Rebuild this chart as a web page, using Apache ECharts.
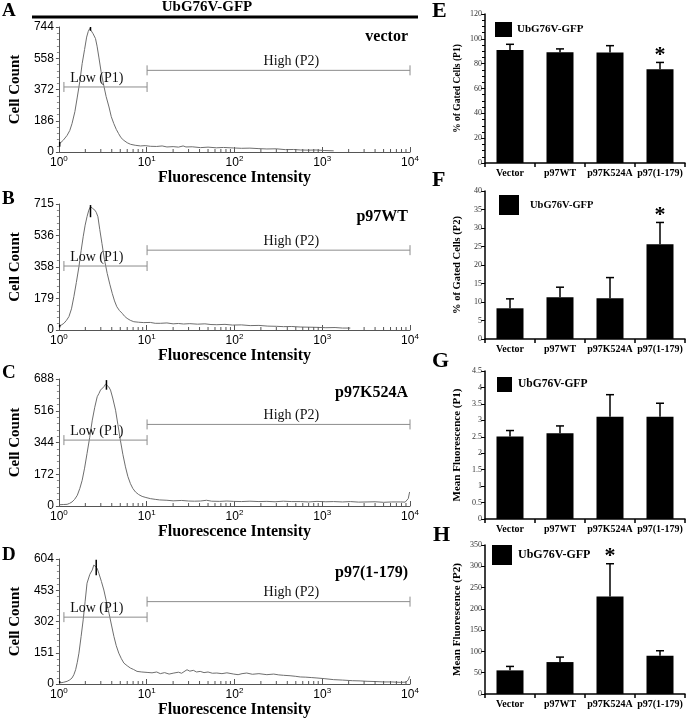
<!DOCTYPE html>
<html><head><meta charset="utf-8">
<script src="https://cdn.jsdelivr.net/npm/echarts@6/dist/echarts.min.js"></script>
<style>html,body{margin:0;padding:0;background:#fff}#c{width:688px;height:720px}</style>
</head><body><div id="c"></div>
<script>
// ---------- DATA ----------
const conditions = ['vector', 'p97WT', 'p97K524A', 'p97(1-179)'];
const histYMax = [744, 715, 688, 604];

// histogram curves: [fluorescence intensity, cell count]
const histVector = [[1.02,50],[1.12,70],[1.24,99],[1.33,128],[1.41,169],[1.52,240],[1.62,327],[1.73,420],[1.84,526],[1.96,610],[2.07,684],[2.16,718],[2.24,734],[2.33,722],[2.45,704],[2.52,712],[2.61,675],[2.72,630],[2.85,565],[3.02,480],[3.24,397],[3.45,330],[3.72,268],[3.95,210],[4.22,169],[4.5,135],[4.79,109],[5.1,85],[5.5,69],[6.0,55],[6.53,46],[7.4,40],[8.5,36],[9.6,38],[11,34],[13,33],[15,36],[17,30],[20,32],[23,29],[26,36],[28,30],[33,31],[41,26],[50,29],[62,25],[75,27],[98,24],[120,22],[150,23],[190,20],[234,18],[300,19],[380,14],[470,15],[562,12],[700,11],[850,12],[1050,9],[1350,7]];
const histWT = [[1.02,23],[1.08,30],[1.14,38],[1.22,55],[1.30,76],[1.39,120],[1.48,189],[1.58,270],[1.69,359],[1.79,450],[1.89,529],[1.99,595],[2.09,643],[2.19,680],[2.29,700],[2.42,690],[2.57,680],[2.66,668],[2.78,643],[2.92,570],[3.09,492],[3.3,400],[3.55,321],[3.8,260],[4.05,208],[4.3,165],[4.57,132],[4.9,110],[5.25,95],[5.6,78],[5.98,66],[6.5,55],[7.13,47],[8.1,44],[9.27,42],[11,43],[12.5,38],[14.3,38],[17,40],[20,35],[23,37],[26.3,34],[31,36],[38,33],[46,35],[54,31],[63,30],[78,32],[95,28],[120,29],[151,25],[190,26],[240,22],[300,21],[363,19],[450,20],[560,17],[700,16],[871,15],[1100,13],[1400,14],[1700,11],[2090,11]];
const histK524A = [[1.02,7],[1.12,8],[1.24,9],[1.32,14],[1.41,22],[1.51,36],[1.62,58],[1.73,95],[1.84,139],[1.96,205],[2.09,284],[2.24,370],[2.40,465],[2.56,535],[2.73,592],[2.86,610],[2.98,628],[3.12,620],[3.25,646],[3.4,660],[3.55,655],[3.7,645],[3.87,628],[4.1,585],[4.42,519],[4.7,440],[5.01,357],[5.35,280],[5.73,212],[6.1,160],[6.53,121],[6.95,95],[7.45,76],[8.1,62],[8.87,52],[9.8,46],[11,40],[12.5,36],[14,33],[17,31],[20,28],[25,30],[30,27],[35,26],[41,27],[48,31],[55,26],[68,25],[82,27],[98,25],[120,24],[150,26],[190,24],[234,25],[290,23],[360,26],[450,24],[562,24],[700,22],[870,25],[1100,23],[1350,24],[1700,22],[2100,24],[2600,21],[3240,22],[4000,23],[5000,20],[6200,22],[7760,22],[8800,21],[9550,40],[9900,76]];
const histP97 = [[1.02,5],[1.12,8],[1.24,13],[1.33,20],[1.41,29],[1.48,45],[1.55,69],[1.62,105],[1.69,149],[1.79,230],[1.89,310],[1.99,400],[2.09,487],[2.25,530],[2.40,551],[2.5,575],[2.61,583],[2.72,560],[2.85,535],[3.05,495],[3.25,454],[3.47,400],[3.72,342],[3.97,285],[4.23,230],[4.5,185],[4.81,149],[5.15,122],[5.5,101],[6.0,88],[6.53,77],[7.1,70],[7.76,61],[8.8,58],[10.1,56],[11.5,54],[13,58],[14.3,50],[16,55],[18,48],[20.4,53],[23,57],[25,52],[28.8,69],[31,62],[34,66],[37,58],[40.7,61],[45,55],[50,58],[56,52],[63,53],[72,50],[82,54],[98,48],[110,45],[122,50],[138,53],[160,47],[190,50],[234,45],[280,48],[320,44],[363,42],[430,40],[500,37],[562,34],[650,33],[760,31],[871,29],[1050,26],[1350,21],[1700,19],[2200,16],[2700,15],[3240,13],[4000,12],[5000,10],[6200,10],[7760,8],[9000,9],[9550,20],[9900,37]];
const histCurves = [histVector, histWT, histK524A, histP97];

// peak cursor marks: [x, yLow, yHigh]
const peakMarks = [[[2.29,722,744],[1.02,32,60]], [[2.29,640,709],[1.02,15,30]], [[3.48,630,682]], [[2.66,525,600],[1.02,5,14]]];

// gates: [xStart, xEnd, y]
const gateLow = [[1.14,10.1,387],[1.14,10.1,363],[1.14,10.1,357],[1.14,10.1,323]];
const gateHigh = [[10.1,10000,486],[10.1,10000,453],[10.1,10000,442],[10.1,10000,398]];
const gateLowLabel = 'Low (P1)';
const gateHighLabel = 'High (P2)';
const gateLowLabelX = 2.7;
const gateHighLabelX = 445;

// bar panels
const categories = ['Vector', 'p97WT', 'p97K524A', 'p97(1-179)'];
const gatedP1 = [91, 89.2, 89, 75.5];
const gatedP1Err = [4.6, 2.7, 5.5, 5.5];
const gatedP2 = [8.3, 11.3, 11.0, 25.6];
const gatedP2Err = [2.55, 2.7, 5.6, 5.9];
const meanP1 = [2.51, 2.61, 3.11, 3.11];
const meanP1Err = [0.18, 0.22, 0.67, 0.41];
const meanP2 = [55.5, 75, 229, 89.8];
const meanP2Err = [9.3, 11.7, 77, 11.8];
const starE = [0, 0, 0, 1];
const starF = [0, 0, 0, 1];
const starG = [0, 0, 0, 0];
const starH = [0, 0, 1, 0];
const barNames = ['% of Gated Cells (P1)', '% of Gated Cells (P2)', 'Mean Fluorescence (P1)', 'Mean Fluorescence (P2)'];
const barYMax = [120, 40, 4.5, 350];
const barYInterval = [20, 5, 0.5, 50];
const legendName = 'UbG76V-GFP';

// ---------- LAYOUT / STYLE ----------
const SERIF = '"Liberation Serif","Times New Roman",serif';
const SANS = '"Liberation Sans",Arial,sans-serif';
const AX = '#555';
const leftGrids = [{top:27,height:125},{top:204,height:126},{top:379,height:127},{top:559,height:125}];
const rightGrids = [{top:14,height:149},{top:191,height:148},{top:371,height:148},{top:545,height:149}];
const letters = [['A',2,11,19],['B',2,199,19],['C',2,373,19],['D',2,555,19],['E',432,11,22],['F',432,180,22],['G',432,361,22],['H',433,535,22]];
const condLabelY = [37, 217, 393, 573];
const legendPos = [[495,22,17,15,11,0],[499,195,20,20,10.5,6],[497,377,15,15,11.5,1],[492,545,20,20,12,1]];
const barNameSize = [9.5, 10.5, 11, 11];

const xMinor = [];
for (let d = 1; d <= 1000; d *= 10) for (let m = 2; m <= 9; m++) xMinor.push([m * d, 0]);

const chart = echarts.init(document.getElementById('c'), null, {renderer:'canvas'});

const grid = [], xAxis = [], yAxis = [], series = [], legend = [], graphic = [];

function gateRender(labels, labelX) {
  return function (params, api) {
    const a = api.coord([api.value(0), api.value(2)]);
    const b = api.coord([api.value(1), api.value(2)]);
    const lx = api.coord([labelX, api.value(2)]);
    const st = {stroke:'#8c8c8c', lineWidth:1};
    return {type:'group', children:[
      {type:'line', shape:{x1:a[0],y1:a[1],x2:b[0],y2:b[1]}, style:st},
      {type:'line', shape:{x1:a[0],y1:a[1]-5,x2:a[0],y2:a[1]+5}, style:st},
      {type:'line', shape:{x1:b[0],y1:b[1]-5,x2:b[0],y2:b[1]+5}, style:st},
      {type:'text', style:{text:labels, x:lx[0], y:a[1]-2, align:'center', verticalAlign:'bottom', font:'14px ' + SERIF, fill:'#111'}}
    ]};
  };
}

for (let i = 0; i < 4; i++) {
  const g = leftGrids[i];
  grid.push({left:58, width:352, top:g.top, height:g.height});
  xAxis.push({
    type:'log', logBase:10, min:1, max:10000, gridIndex:i,
    axisLine:{lineStyle:{color:AX, width:1}},
    axisTick:{show:true, inside:true, length:5, lineStyle:{color:AX}},
    splitLine:{show:false},
    axisLabel:{margin:3, color:'#000',
      formatter: v => '{b|10}{s|' + Math.round(Math.log10(v)) + '}',
      rich:{b:{fontSize:12, fontFamily:SANS, color:'#000', verticalAlign:'bottom', lineHeight:14},
            s:{fontSize:8, fontFamily:SANS, color:'#000', verticalAlign:'top', lineHeight:14}}},
    name:'Fluorescence Intensity', nameLocation:'middle', nameGap:15,
    nameTextStyle:{fontFamily:SERIF, fontWeight:'bold', fontSize:16, color:'#000'}
  });
  yAxis.push({
    type:'value', min:0, max:histYMax[i], interval:histYMax[i] / 4, gridIndex:i,
    axisLine:{show:true, lineStyle:{color:AX}},
    axisTick:{show:true, length:3, lineStyle:{color:AX}},
    minorTick:{show:true, splitNumber:5, length:2, lineStyle:{color:'#888'}},
    splitLine:{show:false},
    axisLabel:{formatter: v => String(Math.round(v)), fontSize:12, fontFamily:SANS, color:'#000', margin:5},
    name:'Cell Count', nameLocation:'middle', nameGap:31,
    nameTextStyle:{fontFamily:SERIF, fontWeight:'bold', fontSize:15, color:'#000'}
  });
  series.push({type:'line', xAxisIndex:i, yAxisIndex:i, data:histCurves[i], showSymbol:false, smooth:false,
    lineStyle:{color:'#6e6e6e', width:1}, z:2});
  series.push({type:'custom', xAxisIndex:i, yAxisIndex:i, data:[gateLow[i]], renderItem:gateRender(gateLowLabel, gateLowLabelX), z:3});
  series.push({type:'custom', xAxisIndex:i, yAxisIndex:i, data:[gateHigh[i]], renderItem:gateRender(gateHighLabel, gateHighLabelX), z:3});
  series.push({type:'custom', xAxisIndex:i, yAxisIndex:i, data:peakMarks[i], z:4,
    renderItem:(p, api) => {
      const a = api.coord([api.value(0), api.value(1)]);
      const b = api.coord([api.value(0), api.value(2)]);
      return {type:'line', shape:{x1:a[0],y1:a[1],x2:b[0],y2:b[1]}, style:{stroke:'#000', lineWidth:1.5}};
    }});
  series.push({type:'custom', xAxisIndex:i, yAxisIndex:i, data:xMinor, z:4, clip:false,
    renderItem:(p, api) => {
      const a = api.coord([api.value(0), 0]);
      return {type:'line', shape:{x1:a[0],y1:a[1],x2:a[0],y2:a[1]-3}, style:{stroke:AX, lineWidth:1}};
    }});
  graphic.push({type:'text', style:{text:conditions[i], x:408, y:condLabelY[i], align:'right', verticalAlign:'middle',
    font:'bold 16px ' + SERIF, fill:'#000'}});
}

const barVals = [gatedP1, gatedP2, meanP1, meanP2];
const barErrs = [gatedP1Err, gatedP2Err, meanP1Err, meanP2Err];
const stars = [starE, starF, starG, starH];

function errRender(params, api) {
  const base = api.coord([api.value(0), api.value(1)]);
  const top = api.coord([api.value(0), api.value(2)]);
  const st = {stroke:'#000', lineWidth:1.5};
  const ch = [
    {type:'line', shape:{x1:base[0],y1:base[1],x2:top[0],y2:top[1]}, style:st},
    {type:'line', shape:{x1:top[0]-4,y1:top[1],x2:top[0]+4,y2:top[1]}, style:st}
  ];
  if (api.value(3)) ch.push({type:'text', style:{text:'*', x:top[0], y:top[1] - 7, align:'center', verticalAlign:'middle',
    font:'bold 22px ' + SERIF, fill:'#000'}});
  return {type:'group', children:ch};
}

for (let i = 0; i < 4; i++) {
  const gi = 4 + i, g = rightGrids[i];
  grid.push({left:485, width:200, top:g.top, height:g.height});
  xAxis.push({type:'category', data:categories, gridIndex:gi,
    axisLine:{lineStyle:{color:'#000', width:1.5}},
    axisTick:{show:true, alignWithLabel:false, length:4, lineStyle:{color:'#000', width:1.5}},
    axisLabel:{interval:0, fontFamily:SERIF, fontWeight:'bold', fontSize:10, color:'#000', margin:5}});
  yAxis.push({type:'value', min:0, max:barYMax[i], interval:barYInterval[i], gridIndex:gi,
    axisLine:{show:true, lineStyle:{color:'#000', width:1.5}},
    axisTick:{show:true, length:4, lineStyle:{color:'#000', width:1}},
    minorTick:{show:i === 0, splitNumber:4, length:3, lineStyle:{color:'#000'}},
    splitLine:{show:false},
    axisLabel:{fontFamily:SERIF, fontSize:8, color:'#333', margin:3},
    name:barNames[i], nameLocation:'middle', nameGap:22,
    nameTextStyle:{fontFamily:SERIF, fontWeight:'bold', fontSize:barNameSize[i], color:'#000'}});
  series.push({type:'bar', name:legendName, xAxisIndex:gi, yAxisIndex:gi, data:barVals[i], barWidth:27,
    itemStyle:{color:'#000'}});
  series.push({type:'custom', xAxisIndex:gi, yAxisIndex:gi, z:5,
    data:barVals[i].map((v, k) => [k, v, v + barErrs[i][k], stars[i][k]]), renderItem:errRender});
  const lp = legendPos[i];
  legend.push({left:lp[0], top:lp[1], padding:0, itemWidth:lp[2], itemHeight:lp[3], icon:'rect', selectedMode:false,
    data:[legendName], itemStyle:{color:'#000'},
    textStyle:{fontFamily:SERIF, fontWeight:'bold', fontSize:lp[4], color:'#000', padding:[0,0,0,lp[5]]}});
}

letters.forEach(l => graphic.push({type:'text', style:{text:l[0], x:l[1], y:l[2], align:'left', verticalAlign:'middle',
  font:'bold ' + l[3] + 'px ' + SERIF, fill:'#000'}}));
graphic.push({type:'text', style:{text:'UbG76V-GFP', x:207, y:7, align:'center', verticalAlign:'middle', font:'bold 15px ' + SERIF, fill:'#000'}});
graphic.push({type:'line', shape:{x1:32, y1:17, x2:418, y2:17}, style:{stroke:'#000', lineWidth:3}});

chart.setOption({animation:false, backgroundColor:'#fff', grid, xAxis, yAxis, series, legend, graphic});
</script></body></html>
